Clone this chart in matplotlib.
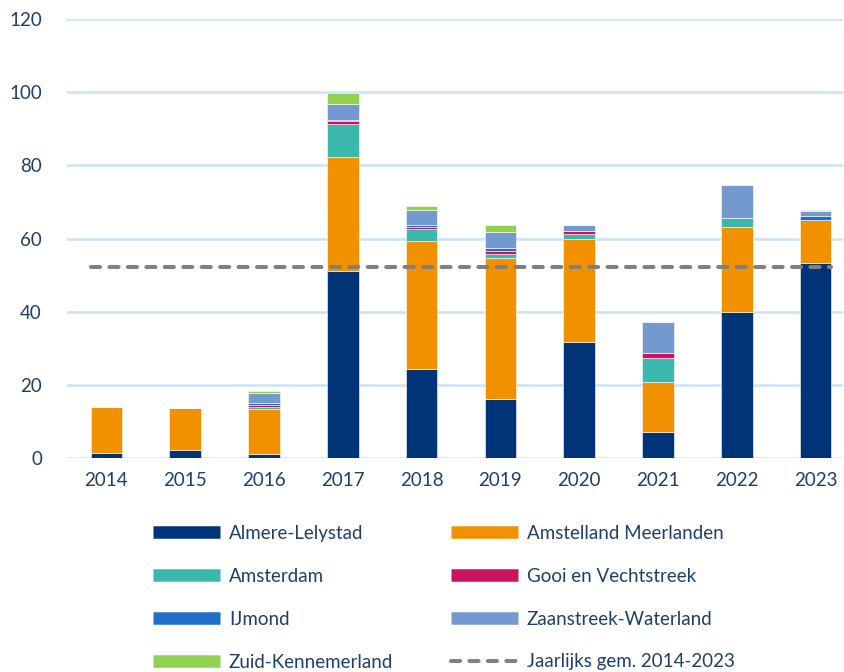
import numpy as np
import matplotlib.pyplot as plt
from matplotlib.lines import Line2D

plt.rcParams['font.family'] = ['Lato', 'DejaVu Sans']

years = ["2014", "2015", "2016", "2017", "2018", "2019", "2020", "2021", "2022", "2023"]

almere_lelystad = [1.3, 2.2, 1.1, 51.2, 24.3, 16.1, 31.7, 7.2, 39.9, 53.2]
amstelland_meerlanden = [12.7, 11.5, 12.3, 31.0, 35.0, 38.5, 28.3, 13.6, 23.3, 11.8]
amsterdam = [0.0, 0.0, 0.5, 9.1, 3.2, 1.1, 1.1, 6.6, 2.5, 0.0]
gooi_vechtstreek = [0.0, 0.0, 0.7, 0.8, 0.7, 0.9, 1.0, 1.4, 0.0, 0.0]
ijmond = [0.0, 0.0, 0.5, 0.4, 0.5, 0.7, 0.0, 0.0, 0.0, 1.1]
zaanstreek_waterland = [0.0, 0.0, 2.8, 4.2, 4.1, 4.5, 1.7, 8.3, 8.8, 1.5]
zuid_kennemerland = [0.0, 0.0, 0.5, 3.0, 1.1, 1.9, 0.0, 0.0, 0.0, 0.2]

series = [
    ("Almere-Lelystad", almere_lelystad, "#003479"),
    ("Amstelland Meerlanden", amstelland_meerlanden, "#f29100"),
    ("Amsterdam", amsterdam, "#3bb8ab"),
    ("Gooi en Vechtstreek", gooi_vechtstreek, "#c9135f"),
    ("IJmond", ijmond, "#1f6ec7"),
    ("Zaanstreek-Waterland", zaanstreek_waterland, "#7399cf"),
    ("Zuid-Kennemerland", zuid_kennemerland, "#92d050"),
]

text_color = "#1f3f6b"
grid_color = "#c9e4f8"

fig = plt.figure(figsize=(8.45, 6.72), dpi=100)
ax = fig.add_axes([67 / 845, 1 - 458 / 672, 776 / 845, 439 / 672])

x = np.arange(len(years))
bottom = np.zeros(len(years))
handles = {}
for name, vals, col in series:
    vals = np.array(vals)
    ax.bar(x, vals, width=0.4, bottom=bottom, color=col, edgecolor="white",
           linewidth=0.4, zorder=3)
    bottom += vals
    handles[name] = Line2D([], [], color=col, lw=9, solid_capstyle="butt")

# average of yearly totals
avg = bottom.mean()
avg_label = "Jaarlijks gem. 2014-2023"
ax.plot([-0.2, 9.2], [avg, avg], color="#808080", lw=2.9, dashes=[2.25, 2.33],
        dash_capstyle="round", zorder=4)
handles[avg_label] = Line2D([], [], color="#808080", lw=2.9, dashes=[2.25, 2.33],
                            dash_capstyle="round")

ax.set_xlim(-0.5, -0.5 + 776 / 78.8)
ax.set_ylim(0, 120)
ax.set_yticks(np.arange(0, 121, 20))
ax.set_xticks(x)
ax.set_xticklabels(years)
ax.yaxis.grid(True, color=grid_color, lw=1.8, zorder=0)
ax.set_axisbelow(True)
for s in ax.spines.values():
    s.set_visible(False)
ax.tick_params(length=0, labelsize=13.5, colors=text_color)
ax.tick_params(axis="y", pad=18)
ax.tick_params(axis="x", pad=10)

order = ["Almere-Lelystad", "Amsterdam", "IJmond", "Zuid-Kennemerland",
         "Amstelland Meerlanden", "Gooi en Vechtstreek", "Zaanstreek-Waterland", avg_label]
leg = fig.legend([handles[n] for n in order], order, ncol=2, loc="upper left",
                 bbox_to_anchor=(136 / 845, 1 - 508 / 672), frameon=False,
                 fontsize=13.5, handlelength=3.6, handletextpad=0.45,
                 labelspacing=1.38, columnspacing=3.08)
for t in leg.get_texts():
    t.set_color(text_color)

fig.savefig("out.png", dpi=100)
